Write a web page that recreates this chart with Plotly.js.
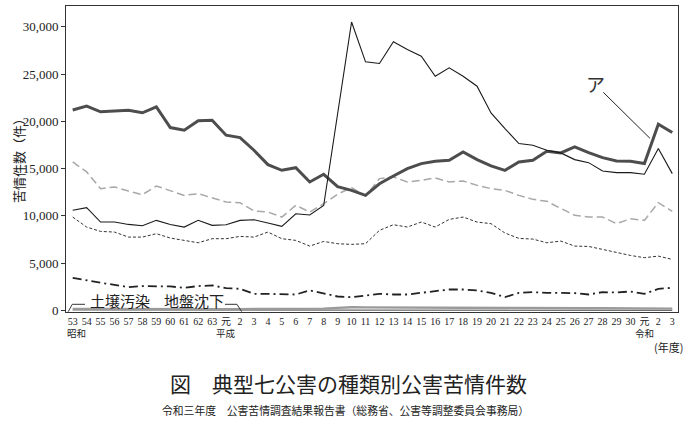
<!DOCTYPE html>
<html>
<head>
<meta charset="utf-8">
<script src="https://cdn.plot.ly/plotly-3.0.1.min.js"></script>
<style>html,body{margin:0;padding:0;background:#fff;}#chart{width:687px;height:423px;}</style>
</head>
<body>
<div id="chart"></div>
<script>
// Fiscal-year tick labels: Showa 53 .. Showa 63, Heisei 元 .. 30, Reiwa 元 .. 3
const yearLabels = ["53","54","55","56","57","58","59","60","61","62","63",
  "元","2","3","4","5","6","7","8","9","10","11","12","13","14","15","16","17","18","19","20",
  "21","22","23","24","25","26","27","28","29","30","元","2","3"];

// 騒音 (thick line)
const noise = [21200,21600,21000,21070,21170,20900,21530,19340,19060,20050,20120,
  18530,18280,16940,15420,14820,15100,13590,14400,13100,12700,12170,13400,14220,15000,
  15530,15770,15880,16760,15950,15280,14820,15700,15880,16830,16660,17290,16690,16160,
  15810,15770,15530,19690,18810];

// 大気汚染 (thin solid line, ア)
const air = [10590,10870,9350,9350,9100,8960,9530,9100,8820,9530,9000,
  9070,9530,9600,9250,8890,10230,10100,11100,20700,30500,26290,26110,28410,27600,
  26890,24770,25660,24770,23710,20890,19230,17650,17470,16940,16660,15950,15630,14750,
  14570,14570,14400,17120,14470];

// 悪臭 (grey long dash)
const odor = [15700,14650,12880,13060,12630,12250,13160,12700,12170,12350,11930,
  11470,11400,10520,10410,9880,11120,10410,11300,12300,13000,12100,13940,14120,13590,
  13760,14010,13590,13690,13230,12880,12700,12170,11750,11540,10760,10060,9880,9880,
  9180,9700,9530,11400,10480];

// 水質汚濁 (short dash)
const water = [9880,8820,8360,8290,7760,7760,8120,7660,7410,7160,7590,
  7590,7830,7760,8290,7590,7410,6810,7300,7060,6990,7060,8470,9070,8820,
  9350,8820,9630,9880,9350,9180,8190,7620,7550,7160,7340,6810,6770,6460,
  6140,5820,5580,5750,5400];

// 振動 (dash-dot)
const vibration = [3460,3180,2930,2720,2470,2580,2580,2540,2400,2580,2650,
  2360,2290,1760,1760,1760,1690,2120,1840,1480,1410,1590,1760,1690,1690,
  1870,2050,2220,2220,2120,1870,1410,1870,1940,1870,1840,1840,1690,1940,
  1900,2010,1760,2290,2400];

// 土壌汚染
const soil = [170,160,150,160,150,150,150,140,140,150,140,
  140,150,150,140,150,150,180,200,280,350,330,320,330,340,
  330,320,310,320,300,290,280,270,260,250,250,240,240,230,
  220,220,220,210,200];

// 地盤沈下
const subsidence = [60,60,55,55,50,50,50,45,45,45,40,
  40,40,40,35,35,35,35,30,30,30,30,30,30,30,
  30,30,25,25,25,25,25,25,25,25,20,20,20,20,
  20,20,20,20,20];

const yTicks = [0,5000,10000,15000,20000,25000,30000];

const xIdx = yearLabels.map((_, i) => i);
const serif = "Liberation Serif, 'Noto Sans CJK JP', serif";
const cjk = "'Noto Sans CJK JP', sans-serif";

const traces = [
  {y: subsidence, line: {color: '#444', width: 1}},
  {y: soil, line: {color: '#9a9a9a', width: 2.4}},
  {y: vibration, line: {color: '#222', width: 1.8, dash: '9px,4px,2px,4px'}},
  {y: water, line: {color: '#333', width: 1, dash: '3px,2px'}},
  {y: odor, line: {color: '#a8a8a8', width: 1.5, dash: '8px,4px'}},
  {y: noise, line: {color: '#4d4d4d', width: 3}},
  {y: air, line: {color: '#1a1a1a', width: 1.1}}
].map(t => Object.assign({x: xIdx, type: 'scatter', mode: 'lines', hoverinfo: 'skip'}, t));

const layout = {
  width: 687, height: 423,
  margin: {l: 66, r: 9, t: 6, b: 111, pad: 0},
  paper_bgcolor: '#fff', plot_bgcolor: '#fff',
  showlegend: false,
  xaxis: {
    range: [-0.48, 43.41], tickvals: xIdx, ticktext: yearLabels, tickangle: 0,
    showline: true, mirror: true, linecolor: '#333', linewidth: 1,
    ticks: '', showgrid: false, zeroline: false,
    tickfont: {family: serif, size: 10, color: '#222'}
  },
  yaxis: {
    range: [-159, 32190], tickvals: yTicks, tickformat: ',d',
    showline: true, mirror: true, linecolor: '#333', linewidth: 1,
    ticks: 'outside', ticklen: 4, tickcolor: '#333',
    showgrid: false, zeroline: false,
    tickfont: {family: serif, size: 13, color: '#222'}
  },
  shapes: [
    {type: 'path', xref: 'x', yref: 'y', path: 'M -0.32,-127 L -0.03,655 L 0.88,655',
     line: {color: '#333', width: 1}},
    {type: 'path', xref: 'x', yref: 'y', path: 'M 10.92,655 L 11.78,655 L 12.12,-127',
     line: {color: '#333', width: 1}},
    {type: 'line', xref: 'x', yref: 'y', x0: 38.05, y0: 23070, x1: 41.4, y1: 18200,
     line: {color: '#222', width: 1}}
  ],
  annotations: [
    {text: '苦情件数（件）', xref: 'paper', yref: 'paper', x: -0.0784, y: 0.503,
     textangle: -90, showarrow: false, xanchor: 'center', yanchor: 'middle',
     font: {family: cjk, size: 13, color: '#222'}},
    {text: '土壌汚染', xref: 'x', yref: 'y', x: 3.39, y: 1057, showarrow: false,
     xanchor: 'center', yanchor: 'middle', font: {family: cjk, size: 15, color: '#222'}},
    {text: '地盤沈下', xref: 'x', yref: 'y', x: 8.71, y: 1057, showarrow: false,
     xanchor: 'center', yanchor: 'middle', font: {family: cjk, size: 15, color: '#222'}},
    {text: 'ア', xref: 'x', yref: 'y', x: 37.46, y: 24050, showarrow: false,
     xanchor: 'center', yanchor: 'middle', font: {family: cjk, size: 19, color: '#333'}},
    {text: '昭和', xref: 'x', yref: 'paper', x: 0.3, y: -0.0686, showarrow: false,
     xanchor: 'center', yanchor: 'middle', font: {family: cjk, size: 9.5, color: '#222'}},
    {text: '平成', xref: 'x', yref: 'paper', x: 11, y: -0.0686, showarrow: false,
     xanchor: 'center', yanchor: 'middle', font: {family: cjk, size: 9.5, color: '#222'}},
    {text: '令和', xref: 'x', yref: 'paper', x: 41, y: -0.0686, showarrow: false,
     xanchor: 'center', yanchor: 'middle', font: {family: cjk, size: 9.5, color: '#222'}},
    {text: '(年度)', xref: 'x', yref: 'paper', x: 42.7, y: -0.114, showarrow: false,
     xanchor: 'center', yanchor: 'middle', font: {family: cjk, size: 11, color: '#222'}},
    {text: '図　典型七公害の種類別公害苦情件数', xref: 'paper', yref: 'paper', x: 0.461, y: -0.232,
     showarrow: false, xanchor: 'center', yanchor: 'middle',
     font: {family: cjk, size: 21, color: '#222'}},
    {text: '令和三年度　公害苦情調査結果報告書（総務省、公害等調整委員会事務局）', xref: 'paper', yref: 'paper',
     x: 0.456, y: -0.320, showarrow: false, xanchor: 'center', yanchor: 'middle',
     font: {family: cjk, size: 10.8, color: '#222'}}
  ]
};

Plotly.newPlot('chart', traces, layout, {staticPlot: true, displayModeBar: false});
</script>
</body>
</html>
